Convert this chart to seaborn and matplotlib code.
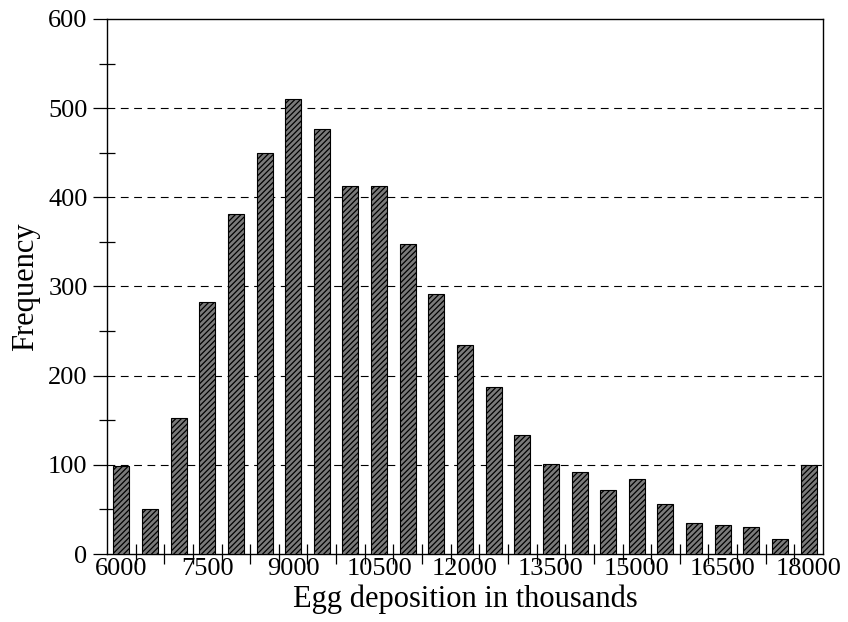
import numpy as np
import pandas as pd
import matplotlib
matplotlib.use('Agg')
import matplotlib.pyplot as plt
import seaborn as sns
from matplotlib.ticker import MultipleLocator, FixedLocator

# egg deposition bins (thousands) and their frequencies
eggs = [6000, 6500, 7000, 7500, 8000, 8500, 9000, 9500, 10000, 10500, 11000, 11500,
        12000, 12500, 13000, 13500, 14000, 14500, 15000, 15500, 16000, 16500, 17000,
        17500, 18000]
freq = [99, 50, 153, 283, 381, 450, 510, 477, 413, 413, 348, 292,
        234, 187, 134, 101, 92, 72, 84, 56, 35, 32, 30, 17, 100]
xticks = [6000, 7500, 9000, 10500, 12000, 13500, 15000, 16500, 18000]

df = pd.DataFrame({'eggs': eggs, 'freq': freq})

sns.set_style('white')
plt.rcParams['font.family'] = ['Liberation Serif', 'DejaVu Serif']
plt.rcParams['hatch.color'] = '#1e1e1e'
plt.rcParams['hatch.linewidth'] = 0.9

fig = plt.figure(figsize=(8.48, 6.22), dpi=100)
ax = fig.add_axes([0.1262, 0.1093, 0.8443, 0.8602])

sns.barplot(data=df, x='eggs', y='freq', native_scale=True, width=0.56,
            color='#7a7a7a', edgecolor='black', linewidth=0.8, ax=ax)
for p in ax.patches:
    p.set_hatch('//////')
    p.set_facecolor('#7a7a7a')
    p.set_zorder(3)

ax.set_xlim(5750, 18250)
ax.set_ylim(0, 600)

# dashed reference lines
for yv in range(100, 600, 100):
    ax.axhline(yv, color='black', linestyle=(0, (7, 5)), linewidth=0.8, zorder=1)

ax.xaxis.set_major_locator(FixedLocator(xticks))
ax.xaxis.set_minor_locator(FixedLocator(np.arange(6250, 18000, 500)))
ax.yaxis.set_major_locator(MultipleLocator(100))
ax.yaxis.set_minor_locator(MultipleLocator(50))
ax.tick_params(axis='x', which='major', length=0, labelsize=19, pad=3, colors='black')
ax.tick_params(axis='x', which='minor', direction='inout', length=14, width=0.9, color='black')
ax.tick_params(axis='y', which='major', direction='out', length=10, width=0.9, labelsize=19, pad=4, colors='black')
ax.tick_params(axis='y', which='minor', direction='inout', length=12, width=0.9, color='black')
ax.xaxis.set_ticks_position('bottom')
ax.yaxis.set_ticks_position('left')

for s in ax.spines.values():
    s.set_visible(True)
    s.set_color('black')
    s.set_linewidth(1.0)

ax.set_xlabel('Egg deposition in thousands', fontsize=22, labelpad=3, color='black')
ax.set_ylabel('Frequency', fontsize=22, labelpad=6, color='black')

fig.savefig('out.png', dpi=100)
